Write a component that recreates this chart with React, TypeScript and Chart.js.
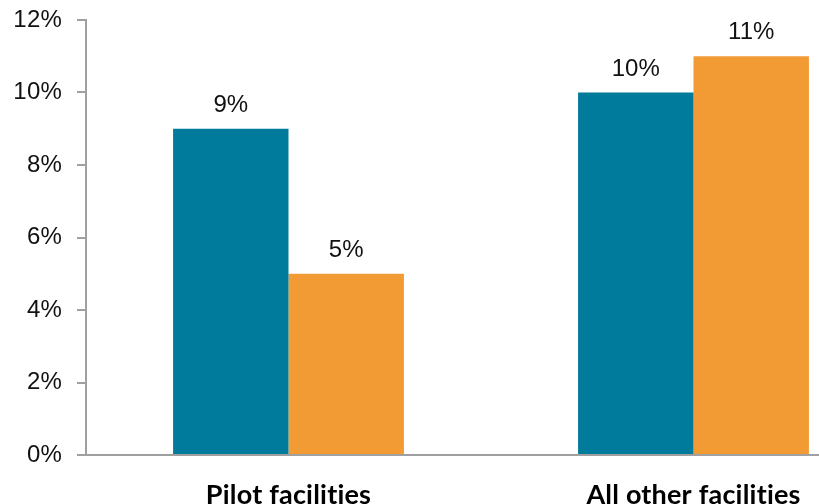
import React, { useEffect, useRef } from "react";
import { Chart, registerables } from "chart.js";

Chart.register(...registerables);

const categories = ["Pilot facilities", "All other facilities"];
const seriesA = [9, 10];
const seriesB = [5, 11];
const yTicks = [0, 2, 4, 6, 8, 10, 12];

const TEAL = "#007B9B";
const ORANGE = "#F29B35";
const AXIS = "#A0A0A0";
const TICK_FONT = "'Liberation Sans', Arial, sans-serif";
const CAT_FONT = "Lato, 'Open Sans', sans-serif";

const labelPlugin = {
  id: "barLabels",
  beforeDraw(chart: any) {
    (chart.ctx as any).letterSpacing = "0.2px";
  },
  afterDatasetsDraw(chart: any) {
    const ctx = chart.ctx;
    ctx.save();
    (ctx as any).letterSpacing = "0px";
    ctx.font = `24px ${TICK_FONT}`;
    ctx.fillStyle = "#111";
    ctx.textAlign = "center";
    ctx.textBaseline = "alphabetic";
    chart.data.datasets.forEach((ds: any, i: number) => {
      const meta = chart.getDatasetMeta(i);
      meta.data.forEach((bar: any, j: number) => {
        ctx.fillText(`${ds.data[j]}%`, bar.x, bar.y - 17);
      });
    });
    ctx.restore();
  },
  afterDraw(chart: any) {
    (chart.ctx as any).letterSpacing = "0px";
  },
};

export default function App() {
  const ref = useRef<HTMLCanvasElement | null>(null);
  useEffect(() => {
    if (!ref.current) return;
    const chart = new Chart(ref.current, {
      type: "bar",
      data: {
        labels: categories,
        datasets: [
          { label: "Series A", data: seriesA, backgroundColor: TEAL, barPercentage: 1, categoryPercentage: 0.57 },
          { label: "Series B", data: seriesB, backgroundColor: ORANGE, barPercentage: 1, categoryPercentage: 0.57 },
        ],
      },
      options: {
        responsive: false,
        animation: false,
        layout: { padding: { top: 20, right: 0, left: 0, bottom: 0 } },
        plugins: { legend: { display: false }, tooltip: { enabled: false } },
        scales: {
          x: {
            grid: { display: false, drawTicks: false },
            border: { display: true, color: AXIS, width: 2 },
            ticks: {
              color: "#000",
              font: { family: CAT_FONT, size: 27, weight: "bold" },
              padding: 24,
              maxRotation: 0,
            },
            afterFit(scale: any) {
              scale.height = 49;
              scale.paddingLeft = 0;
              scale.paddingRight = 0;
            },
          },
          y: {
            min: 0,
            max: 12,
            afterBuildTicks(scale: any) {
              scale.ticks = yTicks.map((v) => ({ value: v }));
            },
            grid: { drawOnChartArea: false, drawTicks: true, tickLength: 9, color: AXIS, lineWidth: 2 },
            border: { display: true, color: AXIS, width: 2 },
            ticks: {
              color: "#111",
              font: { family: TICK_FONT, size: 24 },
              padding: 15,
              callback: (v: any) => `${v}%`,
            },
            afterFit(scale: any) {
              scale.width = 86;
              scale.paddingTop = 0;
              scale.paddingBottom = 0;
            },
          },
        },
      },
      plugins: [labelPlugin],
    });
    return () => chart.destroy();
  }, []);
  return (
    <div style={{ position: "fixed", left: 0, top: 0, width: 819, height: 504, overflow: "hidden", background: "#fff" }}>
      <canvas ref={ref} width={896} height={504} style={{ display: "block", width: 896, height: 504 }} />
    </div>
  );
}
